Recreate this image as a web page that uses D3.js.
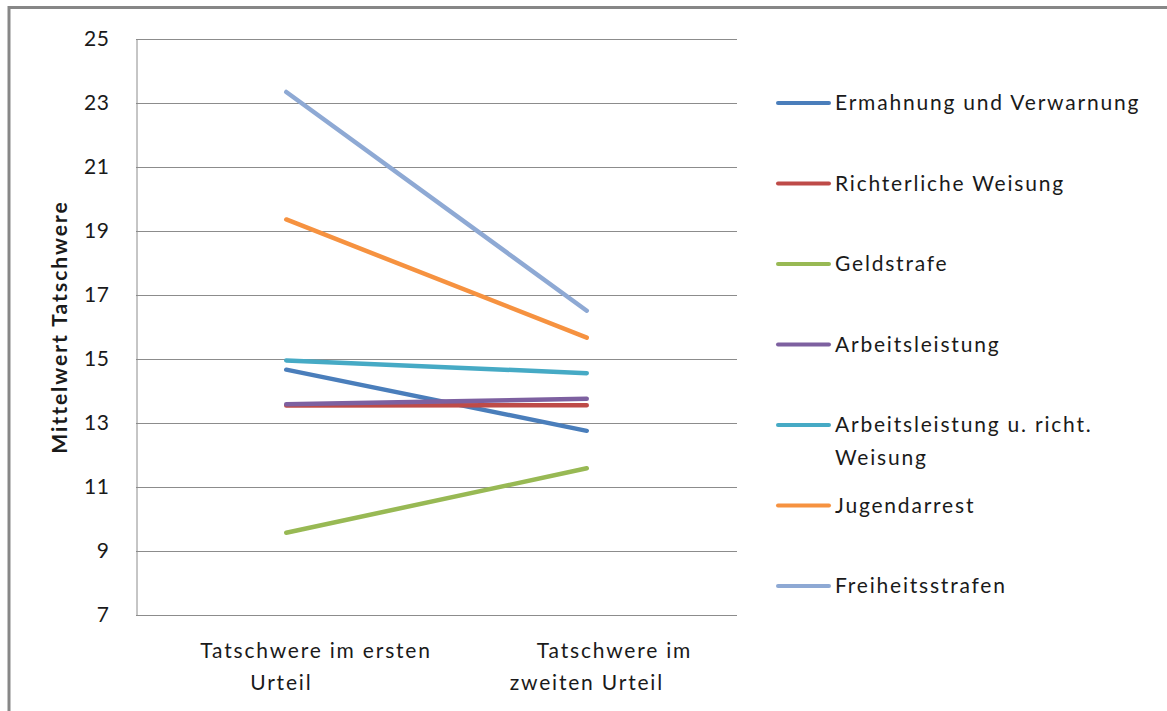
<!DOCTYPE html>
<html>
<head>
<meta charset="utf-8">
<script src="https://cdn.jsdelivr.net/npm/d3@7/dist/d3.min.js"></script>
<style>
  html, body { margin: 0; padding: 0; background: #fff; }
  svg { display: block; }
  text { font-family: Lato, "Open Sans", sans-serif; fill: #1a1a1a; }
</style>
</head>
<body>
<svg id="chart" width="1167" height="711"></svg>
<script>
// Judgement stages on the x axis
const categories = ["Tatschwere im ersten Urteil", "Tatschwere im zweiten Urteil"];
const categoryLines = [["Tatschwere im ersten", "Urteil"], ["Tatschwere im", "zweiten Urteil"]];

// Sanction types (legend order) and their colours
const seriesNames = [
  "Ermahnung und Verwarnung",
  "Richterliche Weisung",
  "Geldstrafe",
  "Arbeitsleistung",
  "Arbeitsleistung u. richt. Weisung",
  "Jugendarrest",
  "Freiheitsstrafen"
];
const seriesColors = ["#4A7EBB", "#BE4B48", "#98B954", "#7D60A0", "#46AAC5", "#F69240", "#8EA9D4"];

// Mean offence severity per sanction type: [first judgement, second judgement]
const ermahnung = [14.66, 12.75];
const richterlich = [13.54, 13.55];
const geldstrafe = [9.57, 11.58];
const arbeitsleistung = [13.58, 13.75];
const arbeitsWeisung = [14.95, 14.55];
const jugendarrest = [19.35, 15.66];
const freiheit = [23.33, 16.50];
const seriesValues = [ermahnung, richterlich, geldstrafe, arbeitsleistung, arbeitsWeisung, jugendarrest, freiheit];

const yTicks = [7, 9, 11, 13, 15, 17, 19, 21, 23, 25];
const legendLines = [
  ["Ermahnung und Verwarnung"],
  ["Richterliche Weisung"],
  ["Geldstrafe"],
  ["Arbeitsleistung"],
  ["Arbeitsleistung u. richt.", "Weisung"],
  ["Jugendarrest"],
  ["Freiheitsstrafen"]
];

const FONT_SIZE = "21px";
const SPACING = "1.8px";

const svg = d3.select("#chart");

// Chart frame (outer border)
svg.append("path")
  .attr("d", "M9,711 V7.5 H1167")
  .attr("fill", "none")
  .attr("stroke", "#878787")
  .attr("stroke-width", 3);

const plot = { left: 136, right: 737, top: 38.5, bottom: 615 };

const x = d3.scaleBand().domain(categories).range([plot.left, plot.right]);
const y = d3.scaleLinear().domain([7, 25]).range([plot.bottom, plot.top]);

// Horizontal gridlines
svg.append("g")
  .selectAll("line")
  .data(yTicks)
  .join("line")
  .attr("x1", plot.left).attr("x2", plot.right)
  .attr("y1", d => Math.round(y(d)) + 0.5).attr("y2", d => Math.round(y(d)) + 0.5)
  .attr("stroke", "#8c8c8c").attr("stroke-width", 1);

// Y axis
const yAxis = svg.append("g")
  .attr("transform", `translate(${plot.left + 0.5},0)`)
  .call(d3.axisLeft(y).tickValues(yTicks).tickSize(0).tickPadding(27));
yAxis.select(".domain").attr("stroke", "#8c8c8c");
yAxis.selectAll("text")
  .style("font-size", FONT_SIZE)
  .style("letter-spacing", "0.6px")
  .style("font-family", "Lato, 'Open Sans', sans-serif")
  .attr("fill", "#1a1a1a");

// X axis line at the bottom
svg.append("line")
  .attr("x1", plot.left).attr("x2", plot.right)
  .attr("y1", plot.bottom + 0.5).attr("y2", plot.bottom + 0.5)
  .attr("stroke", "#8c8c8c");

// X category labels (two lines each, wrapped)
const xLabelStarts = [[-86, -36], [-50, -77]];
categories.forEach((c, i) => {
  const cx = x(c) + x.bandwidth() / 2;
  categoryLines[i].forEach((t, j) => {
    svg.append("text")
      .attr("x", cx + xLabelStarts[i][j])
      .attr("y", 658 + j * 32)
      .style("font-size", FONT_SIZE)
      .style("letter-spacing", SPACING)
      .text(t);
  });
});

// Y axis title
svg.append("text")
  .attr("transform", "translate(67,327) rotate(-90)")
  .attr("text-anchor", "middle")
  .style("font-size", FONT_SIZE)
  .style("letter-spacing", "2px")
  .style("font-weight", "bold")
  .text("Mittelwert Tatschwere");

// Series lines
const line = d3.line()
  .x((d, i) => x(categories[i]) + x.bandwidth() / 2)
  .y(d => y(d));

svg.append("g")
  .selectAll("path")
  .data(seriesValues)
  .join("path")
  .attr("d", d => line(d))
  .attr("fill", "none")
  .attr("stroke", (d, i) => seriesColors[i])
  .attr("stroke-width", 4.5)
  .attr("stroke-linecap", "round");

// Legend
const legendTop = 103;
const legendStep = 80.5;
const legend = svg.append("g");
seriesNames.forEach((name, i) => {
  const ly = legendTop + i * legendStep;
  legend.append("line")
    .attr("x1", 778).attr("x2", 829)
    .attr("y1", ly).attr("y2", ly)
    .attr("stroke", seriesColors[i])
    .attr("stroke-width", 4)
    .attr("stroke-linecap", "round");
  legendLines[i].forEach((t, j) => {
    legend.append("text")
      .attr("x", 835)
      .attr("y", ly + j * 33)
      .attr("dy", "0.35em")
      .style("font-size", FONT_SIZE)
      .style("letter-spacing", SPACING)
      .text(t);
  });
});
</script>
</body>
</html>
